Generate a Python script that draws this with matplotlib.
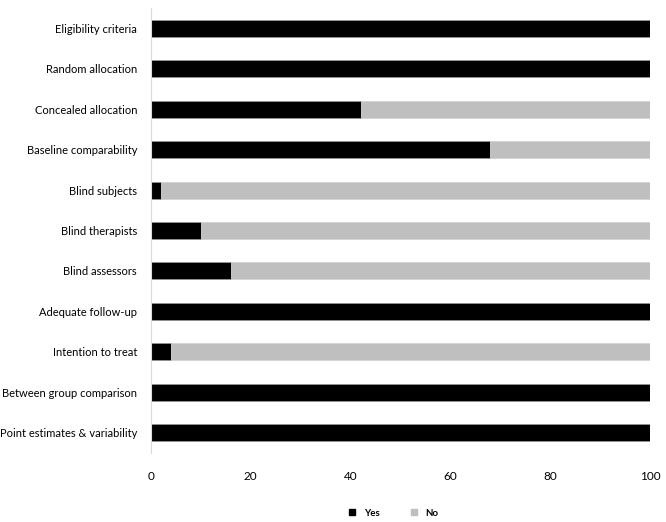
import matplotlib
matplotlib.use("Agg")
import matplotlib.pyplot as plt
from matplotlib.patches import Patch

# Calibri look-alike: Lato, sized down to match the label widths
FONT = ["Lato", "DejaVu Sans"]
plt.rcParams["font.family"] = FONT

categories = [
    "Eligibility criteria",
    "Random allocation",
    "Concealed allocation",
    "Baseline comparability",
    "Blind subjects",
    "Blind therapists",
    "Blind assessors",
    "Adequate follow-up",
    "Intention to treat",
    "Between group comparison",
    "Point estimates & variability",
]
yes_pct = [100, 100, 42, 68, 2, 10, 16, 100, 4, 100, 100]
no_pct = [100 - v for v in yes_pct]
xticks = [0, 20, 40, 60, 80, 100]

YES_C = "#000000"
NO_C = "#BFBFBF"

fig = plt.figure(figsize=(6.66, 5.22), dpi=100)
ax = fig.add_axes([151 / 666, 1 - 453 / 522, 499 / 666, 445 / 522])

pos = list(range(len(categories)))
ax.barh(pos, yes_pct, height=0.42, color=YES_C, edgecolor="#9a9a9a", lw=0.5)
ax.barh(pos, no_pct, left=yes_pct, height=0.42, color=NO_C, edgecolor="#d0d0d0", lw=0.5)

ax.set_ylim(10.5, -0.5)
ax.set_xlim(0, 100)
ax.set_yticks(pos)
ax.set_yticklabels(categories, fontsize=8)
ax.set_xticks(xticks)
ax.set_xticklabels([str(t) for t in xticks], fontsize=8.5)
ax.tick_params(axis="y", length=0, pad=10)
ax.tick_params(axis="x", length=0, pad=13)
for s in ["top", "right", "bottom"]:
    ax.spines[s].set_visible(False)
ax.spines["left"].set_color("#d9d9d9")
ax.spines["left"].set_linewidth(0.8)

handles = [Patch(color=YES_C, label="Yes"), Patch(color=NO_C, label="No")]
fig.legend(handles=handles, loc="center", bbox_to_anchor=(394 / 666, 1 - 513 / 522),
           ncol=2, frameon=False, handlelength=0.6, handleheight=0.6,
           columnspacing=3.2, handletextpad=0.9,
           prop={"size": 7, "weight": "bold", "family": FONT})

fig.savefig("out.png", dpi=100)
